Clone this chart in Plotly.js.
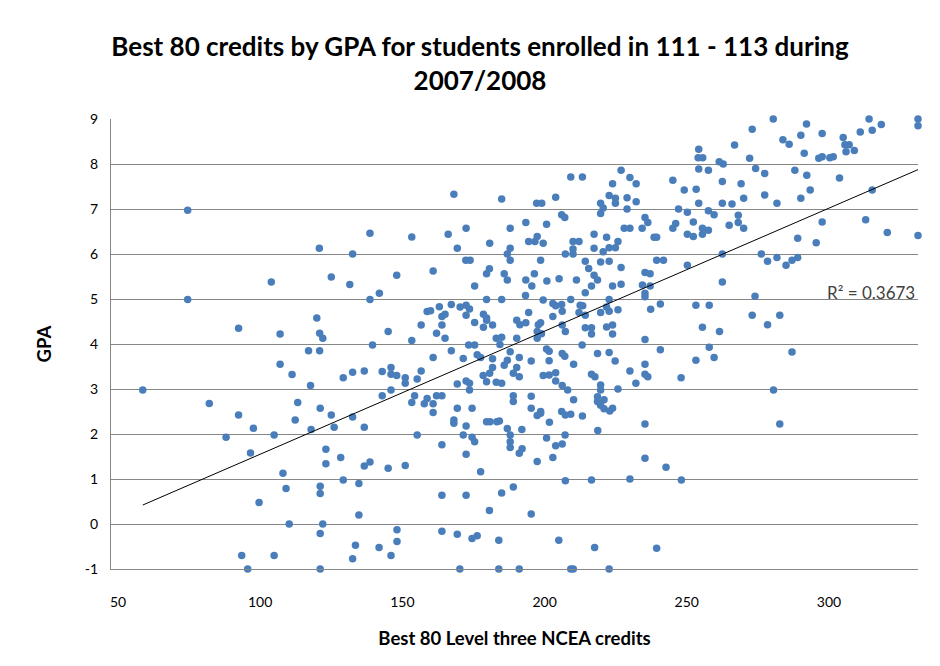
<!DOCTYPE html>
<html>
<head>
<meta charset="utf-8">
<script src="https://cdn.plot.ly/plotly-3.0.1.min.js"></script>
<style>
html,body{margin:0;padding:0;background:#fff;}
#chart{width:940px;height:666px;}
</style>
</head>
<body>
<div id="chart"></div>
<script>
// Best 80 level-three NCEA credits (x) and GPA (y)
const credits = [
74.5,120.8,132.5,138.6,153.3,166.1,168.1,172.4,169.3,172.3,173.8,180.7,184.9,187.9,187.9,186.9,187.9,
193.4,194.4,196.6,197.4,199.5,197.2,199.0,198.6,200.7,203.9,206.0,207.1,209.2,213.3,207.3,210.0,212.1,210.0,210.0,214.3,217.4,217.4,
219.7,220.6,219.7,221.8,222.7,224.9,225.8,220.6,219.7,222.7,222.7,224.9,224.9,223.9,226.9,229.0,229.0,230.0,232.2,232.2,228.0,230.0,
235.3,236.3,234.3,238.5,239.4,239.4,241.8,245.1,246.1,245.1,247.1,249.1,250.2,250.2,252.3,252.3,253.3,254.2,254.0,255.6,254.2,257.6,
254.2,257.6,255.5,255.5,257.6,259.6,261.4,
280.4,292.1,314.1,318.4,331.3,331.3,273.0,266.8,283.8,286.0,290.1,297.6,305.0,305.6,307.1,306.0,308.9,311.0,315.2,272.1,291.3,296.4,
297.6,300.3,301.5,262.8,274.2,277.4,288.0,292.2,303.7,262.5,269.1,293.4,315.2,277.4,270.0,290.1,262.5,265.9,281.7,268.1,264.9,268.1,
270.0,297.6,312.9,320.5,331.3,289.0,295.5,262.5,276.2,278.4,281.7,287.0,289.0,284.9,
262.5,274.0,257.9,273.0,282.7,278.4,261.5,257.9,259.6,287.0,280.5,282.7,
215.5,226.9,250.2,193.4,196.4,195.5,200.8,205.1,211.2,217.4,218.6,216.5,223.9,226.9,235.3,237.1,234.4,237.1,235.3,235.3,193.3,199.5,
202.9,203.9,206.0,209.2,212.5,213.4,206.2,214.3,222.7,221.8,222.7,225.8,219.7,212.1,214.3,240.7,237.3,253.2,194.4,202.9,190.2,191.3,
193.4,197.8,198.6,197.4,198.9,206.2,207.3,214.3,216.5,216.5,221.8,223.9,223.9,190.2,197.4,235.3,213.2,255.5,240.7,253.2,187.9,191.1,
195.3,200.7,201.6,206.2,207.1,201.6,210.2,218.6,222.7,224.8,235.3,189.0,191.1,199.5,201.6,203.9,203.9,206.2,208.1,216.5,217.7,219.7,
219.7,225.8,230.0,232.1,235.3,236.3,248.0,189.0,189.0,195.3,195.3,198.6,210.2,218.6,218.6,219.7,220.9,220.9,223.9,222.9,206.0,209.2,
213.3,
197.4,198.6,207.3,201.7,192.0,187.9,187.9,187.9,200.7,207.2,203.9,206.2,191.1,192.1,202.9,197.4,218.7,235.3,235.3,242.7,189.0,207.3,
216.5,230.0,248.1,195.3,205.0,217.6,239.4,191.1,209.2,210.1,222.7,
121.1,125.0,132.5,126.0,117.9,136.6,155.2,160.8,169.3,174.5,168.1,168.1,172.4,179.6,180.8,183.2,184.1,171.4,174.5,175.4,186.9,163.9,
172.4,123.1,128.3,123.1,136.6,138.6,145.0,151.0,177.5,129.2,121.1,121.1,134.7,163.9,172.4,184.9,180.6,134.7,122.0,121.1,148.1,148.1,
133.5,141.8,132.5,146.0,163.9,169.3,174.5,176.3,183.9,121.1,170.2,183.9,
82.1,92.4,112.3,97.6,88.0,104.9,96.6,108.0,109.1,99.6,110.2,93.5,104.9,95.6,
103.9,74.5,92.4,107.0,119.9,120.9,117.0,120.9,107.0,111.2,117.7,58.7,113.2,
180.6,179.6,185.8,186.9,125.0,148.0,160.8,131.5,141.9,138.6,175.4,179.6,184.9,122.0,139.5,145.0,153.3,156.6,158.7,159.9,163.0,163.9,
165.0,167.2,170.3,172.4,173.6,172.4,163.9,162.0,165.0,175.4,178.5,179.6,179.6,178.5,181.7,183.0,184.9,184.3,173.3,175.4,167.2,160.8,
171.4,176.3,177.5,181.7,181.7,186.9,185.8,190.2,180.7,178.4,179.6,183.0,184.9,169.3,172.4,173.6,173.6,146.0,146.0,142.9,148.0,151.0,
151.0,155.2,156.6,136.6,132.5,129.2,146.0,142.9,153.3,154.3,157.7,158.7,160.8,162.0,163.9
];
const gpa = [
6.97,6.13,6.00,6.46,6.38,6.44,7.33,6.57,6.13,5.86,5.86,6.24,7.22,6.57,6.13,6.00,5.86,
6.70,6.28,6.28,6.39,6.24,7.13,7.13,5.86,6.66,7.26,6.87,6.81,7.71,7.71,6.00,6.28,6.28,6.11,6.00,5.84,6.44,6.13,
7.13,7.02,6.90,6.37,6.14,6.14,6.28,6.05,5.82,5.84,7.30,7.24,7.13,7.56,7.86,7.25,7.00,7.70,7.56,7.16,6.57,6.57,
6.81,6.70,6.57,6.37,6.37,5.86,5.86,7.64,6.68,6.57,7.00,7.42,6.93,6.44,6.71,6.39,7.44,8.33,8.14,8.14,7.89,7.86,
7.13,6.96,6.57,6.44,6.53,6.87,8.05,
9.00,8.89,9.00,8.88,9.00,8.85,8.77,8.42,8.54,8.44,8.64,8.68,8.59,8.43,8.43,8.27,8.30,8.71,8.75,8.13,8.24,8.13,
8.16,8.14,8.16,8.00,7.90,7.79,7.86,7.75,7.69,7.61,7.56,7.42,7.42,7.31,7.24,7.24,7.13,7.11,7.13,6.86,6.64,6.70,
6.57,6.71,6.76,6.48,6.41,6.35,6.25,6.00,6.00,5.84,5.92,5.86,5.92,5.75,
5.38,5.06,4.86,4.64,4.64,4.43,4.28,3.93,3.70,3.82,2.98,2.22,
5.68,5.70,5.75,5.42,5.56,5.29,5.40,5.45,5.42,5.53,5.42,5.29,5.29,5.33,5.59,5.56,5.31,5.29,5.13,5.05,5.08,4.98,
4.90,4.85,4.88,4.99,4.86,4.85,4.73,5.14,4.99,4.82,4.73,4.76,4.70,4.70,4.64,4.89,4.77,4.86,4.70,4.61,4.53,4.43,
4.47,4.43,4.47,4.28,4.23,4.42,4.28,4.36,4.36,4.22,4.38,4.42,4.22,4.13,4.13,4.10,3.98,4.37,3.87,3.64,3.83,3.70,
3.62,3.89,3.84,3.79,3.73,3.63,3.55,3.79,3.81,3.62,3.55,3.35,3.27,3.30,3.31,3.36,3.18,3.08,2.98,3.33,3.27,3.09,
2.98,3.00,3.40,3.13,3.33,3.27,3.25,2.85,2.72,2.84,2.57,2.50,2.76,2.83,2.72,2.64,2.76,2.56,2.57,2.51,2.50,2.44,
2.40,
2.41,2.46,2.42,2.26,2.10,1.98,1.83,1.70,1.91,1.98,1.74,1.78,1.57,1.67,1.48,1.39,2.08,2.22,1.46,1.26,0.82,0.96,
0.98,1.00,0.98,0.22,-0.36,-0.52,-0.54,-1.00,-1.00,-1.00,-1.00,
2.57,2.42,2.38,2.15,2.10,2.15,1.98,2.48,2.57,2.57,2.31,2.24,2.18,2.27,2.27,2.27,2.29,1.98,1.93,1.83,2.12,1.76,
1.55,1.66,1.48,1.34,1.29,1.38,1.24,1.30,1.16,0.98,0.84,0.68,0.90,0.64,0.64,0.69,0.30,0.20,0.00,-0.21,-0.13,-0.39,
-0.47,-0.52,-0.77,-0.70,-0.16,-0.23,-0.32,-0.26,-0.36,-1.00,-1.00,-1.00,
2.68,2.42,2.31,2.13,1.93,1.98,1.58,1.13,0.79,0.48,0.00,-0.70,-0.70,-1.00,
5.38,4.99,4.35,4.22,4.58,4.24,3.85,3.85,3.55,3.32,3.08,2.98,2.70,
5.67,5.56,5.56,5.42,5.49,5.53,5.62,5.32,5.13,4.99,5.29,4.99,4.99,4.13,3.98,4.28,4.08,4.42,4.72,4.74,4.83,4.61,
4.66,4.88,4.82,4.86,4.78,4.64,4.42,4.24,4.13,4.48,4.66,4.58,4.53,4.37,4.42,4.13,4.15,3.99,3.98,3.98,3.85,3.70,
3.68,3.76,3.70,3.67,3.48,3.64,3.53,3.48,3.35,3.30,3.16,3.15,3.13,3.11,3.18,3.13,2.98,3.48,3.33,3.39,3.30,3.25,
3.13,3.22,3.40,3.40,3.37,3.25,2.98,2.85,2.70,2.85,2.67,2.79,2.67,2.85,2.85
];
const titleText = "Best 80 credits by GPA for students enrolled in 111 - 113 during<br>2007/2008";
const xTitle = "Best 80 Level three NCEA credits";
const yTitle = "GPA";
const xTicks = [50, 100, 150, 200, 250, 300];
const yTicks = [-1, 0, 1, 2, 3, 4, 5, 6, 7, 8, 9];
const r2Label = "R² = 0.3673";

// least-squares linear trendline computed from the data
const n = Math.min(credits.length, gpa.length);
let sx=0, sy=0, sxx=0, sxy=0;
for (let i=0;i<n;i++){ sx+=credits[i]; sy+=gpa[i]; sxx+=credits[i]*credits[i]; sxy+=credits[i]*gpa[i]; }
const slope = (n*sxy - sx*sy)/(n*sxx - sx*sx);
const intercept = (sy - slope*sx)/n;
const xs = credits.slice(0,n);
const xmin = Math.min(...xs), xmax = Math.max(...xs);

const font = "Lato, 'Open Sans', sans-serif";

const traces = [
  {
    type: "scatter", mode: "markers",
    x: credits.slice(0,n), y: gpa.slice(0,n),
    marker: {color: "#4a7ebb", size: 7.5, line: {width: 0}},
    cliponaxis: false, hoverinfo: "x+y", name: "GPA"
  },
  {
    type: "scatter", mode: "lines",
    x: [xmin, xmax], y: [intercept + slope*xmin, intercept + slope*xmax],
    line: {color: "#000000", width: 1},
    hoverinfo: "skip", name: "Linear trend"
  }
];

const layout = {
  width: 940, height: 666,
  paper_bgcolor: "#ffffff", plot_bgcolor: "#ffffff",
  showlegend: false,
  margin: {l: 111, r: 22, t: 119, b: 97},
  font: {family: font, size: 14, color: "#000000"},
  title: {
    text: titleText,
    font: {family: font, size: 26, color: "#000000", weight: "bold"},
    x: 480/940, xanchor: "center", xref: "container",
    y: 1 - 56/666, yanchor: "top", yref: "container"
  },
  xaxis: {
    range: [47.54, 331.3], tickvals: xTicks, ticktext: xTicks.map(String),
    showgrid: false, zeroline: false,
    showline: true, linecolor: "#868686", linewidth: 1,
    ticks: "", ticklabelstandoff: 20,
    tickfont: {family: font, size: 14, color: "#000000"},
    title: {text: xTitle, font: {family: font, size: 18.5, color: "#000000", weight: "bold"}, standoff: 23}
  },
  yaxis: {
    range: [-1, 9], tickvals: yTicks, ticktext: yTicks.map(String),
    showgrid: true, gridcolor: "#868686", gridwidth: 1, zeroline: false,
    showline: true, linecolor: "#868686", linewidth: 1,
    ticks: "", ticklabelstandoff: 9,
    tickfont: {family: font, size: 14, color: "#000000"},
    title: {text: yTitle, font: {family: font, size: 18.5, color: "#000000", weight: "bold"}, standoff: 28}
  },
  annotations: [
    {text: r2Label, xref: "paper", yref: "paper", x: 1, y: (5.15+1)/10,
     xanchor: "right", yanchor: "middle", xshift: -1, showarrow: false,
     font: {family: font, size: 17, color: "#404040"}}
  ]
};

Plotly.newPlot("chart", traces, layout, {displayModeBar: false, staticPlot: true});
</script>
</body>
</html>
